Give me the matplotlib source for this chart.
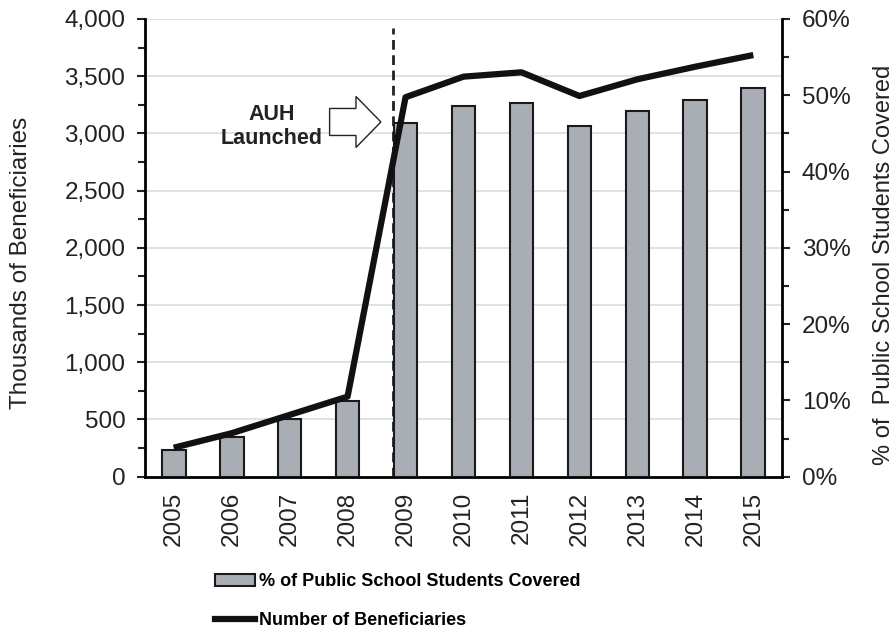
import numpy as np
import matplotlib
matplotlib.use("Agg")
import matplotlib.pyplot as plt
import matplotlib.patches as mpatches
from matplotlib.lines import Line2D
from matplotlib.ticker import FuncFormatter, MultipleLocator
from matplotlib import font_manager

plt.rcParams['font.family'] = ['Liberation Sans', 'DejaVu Sans']

# data
years = ['2005', '2006', '2007', '2008', '2009', '2010',
         '2011', '2012', '2013', '2014', '2015']
pct_covered = [3.5, 5.2, 7.6, 9.9, 46.3, 48.6, 49.0, 46.0, 47.9, 49.4, 51.0]
beneficiaries = [253, 380, 540, 700, 3316, 3496, 3534, 3327, 3473, 3583, 3685]

bar_color = '#a9aeb4'
grid_color = '#d8dbe0'
txt_color = '#222222'

# narrow bold face for the legend if there is one
names = {f.name for f in font_manager.fontManager.ttflist}
narrow = 'Liberation Sans Narrow' in names
leg_prop = {'weight': 'bold', 'size': 15 if narrow else 13,
            'family': ['Liberation Sans Narrow' if narrow else 'Liberation Sans']}

fig = plt.figure(figsize=(8.96, 6.35), dpi=100)
ax = fig.add_axes([0.1615, 0.2493, 0.7116, 0.7208])
ax2 = ax.twinx()

x = np.arange(len(years))

# bars: % of students (right axis)
ax2.bar(x, pct_covered, width=0.41, color=bar_color, edgecolor='#1a1a1a',
        linewidth=1.5, zorder=2)
# line: thousands of beneficiaries (left axis scale)
ax2.plot(x, beneficiaries, color='#111111', linewidth=4.5,
         solid_capstyle='butt', transform=ax.transData, zorder=3)

ax.set_xlim(-0.5, 10.5)
ax.set_ylim(0, 4000)
ax2.set_ylim(0, 60)

# grid on left axis
ax.yaxis.set_major_locator(MultipleLocator(500))
ax.yaxis.set_minor_locator(MultipleLocator(250))
ax.grid(axis='y', color=grid_color, linewidth=1.2)
ax.set_axisbelow(True)
ax.yaxis.set_major_formatter(FuncFormatter(lambda v, p: f'{int(v):,}'))

ax2.yaxis.set_major_locator(MultipleLocator(10))
ax2.yaxis.set_minor_locator(MultipleLocator(5))
ax2.yaxis.set_major_formatter(FuncFormatter(lambda v, p: f'{int(v)}%'))

ax.set_xticks(x)
ax.set_xticklabels(years, rotation=90)

for a in (ax, ax2):
    a.spines['top'].set_visible(False)
    a.tick_params(axis='both', which='major', length=6, width=1.5,
                  labelsize=17.5, colors=txt_color, labelcolor=txt_color, pad=8)
    a.tick_params(axis='y', which='minor', length=5, width=1.5, colors=txt_color)
ax.tick_params(axis='x', length=0, pad=11)
ax.spines['left'].set_linewidth(2)
ax.spines['bottom'].set_linewidth(2)
ax2.spines['right'].set_linewidth(2)
ax2.spines['left'].set_visible(False)
ax2.spines['bottom'].set_visible(False)
ax.spines['right'].set_visible(False)

ax.set_ylabel('Thousands of Beneficiaries', fontsize=17.5, color=txt_color)
ax2.set_ylabel('% of  Public School Students Covered', fontsize=17,
               color=txt_color)
ax.yaxis.set_label_coords(-0.177, 0.468)
ax2.yaxis.set_label_coords(1.143, 0.462)

# AUH launch marker
ax.axvline(3.78, ymin=0, ymax=0.98, color='#222222', linewidth=2,
           linestyle=(0, (3.5, 2)), zorder=1)
arrow = mpatches.FancyArrow(2.69, 3100, 0.885, 0, width=236, head_width=446,
                            head_length=0.43, length_includes_head=True,
                            facecolor='white', edgecolor='#222222',
                            linewidth=1.0, zorder=4)
ax.add_patch(arrow)
ax.text(1.69, 3060, 'AUH\nLaunched', ha='center', va='center',
        fontsize=15.5, fontweight='bold', color=txt_color, linespacing=1.15)

handles = [mpatches.Patch(facecolor=bar_color, edgecolor='#1a1a1a', linewidth=1.5),
           Line2D([], [], color='#111111', linewidth=4.5)]
labels = ['% of Public School Students Covered', 'Number of Beneficiaries']
leg = fig.legend(handles, labels, loc='center left',
                 bbox_to_anchor=(0.24, 0.0535),
                 frameon=False, handlelength=2.2 * 13 / leg_prop['size'],
                 handleheight=0.67 * 13 / leg_prop['size'],
                 handletextpad=0.25, labelspacing=1.2 * 13 / leg_prop['size'],
                 borderpad=0, borderaxespad=0, prop=leg_prop)

fig.savefig('out.png', dpi=100)
